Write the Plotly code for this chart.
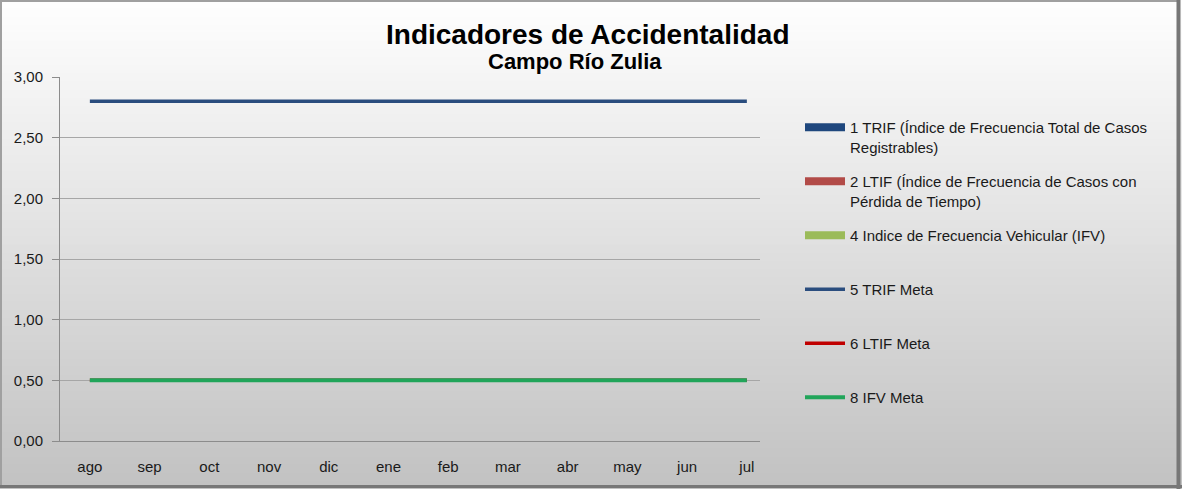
import plotly.graph_objects as go

# datos del gráfico
meses = ["ago", "sep", "oct", "nov", "dic", "ene", "feb", "mar", "abr", "may", "jun", "jul"]
trif = [None] * 12
ltif = [None] * 12
ifv = [None] * 12
trif_meta = [2.8] * 12
ltif_meta = [0.5] * 12
ifv_meta = [0.5] * 12

FONT = "Liberation Sans, Arial, sans-serif"
W, H = 1182, 489
L, R, T, B = 60, 422, 77, 48
PW, PH = W - L - R, H - T - B


def px_x(x):
    # pixel -> coordenada paper
    return (x - L) / PW


def px_y(y):
    return (H - B - y) / PH


fig = go.Figure()

# series de barras (sin datos); la leyenda se muestra como rectángulo grueso
fig.add_trace(go.Scatter(x=meses, y=trif, mode="lines", line=dict(color="#1f477d", width=8),
                         legendgroup="g1",
                         name="1 TRIF (Índice de Frecuencia Total de Casos<br>Registrables)"))
fig.add_trace(go.Scatter(x=meses, y=ltif, mode="lines", line=dict(color="#b24b48", width=8),
                         legendgroup="g2",
                         name="2 LTIF (Índice de Frecuencia de Casos con<br>Pérdida de Tiempo)"))
fig.add_trace(go.Scatter(x=meses, y=ifv, mode="lines", line=dict(color="#9bbb59", width=8),
                         legendgroup="g3",
                         name="4 Indice de Frecuencia Vehicular (IFV)<br> "))

# metas
fig.add_trace(go.Scatter(x=meses, y=trif_meta, mode="lines", line=dict(color="#2a4d7e", width=3.5),
                         legendgroup="g4", name="5 TRIF Meta<br> "))
fig.add_trace(go.Scatter(x=meses, y=ltif_meta, mode="lines", line=dict(color="#c00000", width=3.5),
                         legendgroup="g5", name="6 LTIF Meta<br> "))
fig.add_trace(go.Scatter(x=meses, y=ifv_meta, mode="lines", line=dict(color="#21a55a", width=4),
                         legendgroup="g6", name="8 IFV Meta<br> "))

# fondo degradado (blanco arriba, gris abajo)
n = 60
for i in range(n):
    t = i / (n - 1)
    c = int(round(254 - t * (254 - 194)))
    y1 = i * H / n
    y0 = (i + 1) * H / n + 1
    fig.add_shape(type="rect", xref="paper", yref="paper",
                  x0=px_x(0), x1=px_x(W), y0=px_y(y0), y1=px_y(y1),
                  fillcolor=f"rgb({c},{c},{c})", line=dict(width=0), layer="below")

fig.update_layout(
    width=W, height=H,
    margin=dict(l=L, r=R, t=T, b=B),
    paper_bgcolor="#e0e0e0",
    plot_bgcolor="rgba(0,0,0,0)",
    separators=",.",
    font=dict(family=FONT, size=15, color="#1a1a1a"),
    annotations=[
        dict(text="<b>Indicadores de Accidentalidad</b>", xref="paper", yref="paper",
             x=px_x(588), y=px_y(35), xanchor="center", yanchor="middle", showarrow=False,
             font=dict(family=FONT, size=28, color="#000000")),
        dict(text="<b>Campo Río Zulia</b>", xref="paper", yref="paper",
             x=px_x(575), y=px_y(62), xanchor="center", yanchor="middle", showarrow=False,
             font=dict(family=FONT, size=22, color="#000000")),
    ],
    xaxis=dict(type="category", range=[-0.5, 11.22], showgrid=False, showline=True,
               linecolor="#8c8c8c", linewidth=1, ticks="", tickfont=dict(size=15),
               ticklabelstandoff=12),
    yaxis=dict(range=[0, 3], dtick=0.5, tickformat=".2f", showgrid=True, gridcolor="#a6a6a6",
               showline=True, linecolor="#8c8c8c", ticks="outside", ticklen=7, tickcolor="#8c8c8c",
               zeroline=False, tickfont=dict(size=15), ticklabelstandoff=6),
    legend=dict(x=px_x(800), y=px_y(111), xanchor="left", yanchor="top", valign="top",
                bgcolor="rgba(0,0,0,0)", tracegroupgap=12, itemwidth=40,
                font=dict(family=FONT, size=15, color="#1a1a1a")),
    showlegend=True,
)

# marco del gráfico
fig.add_shape(type="rect", xref="paper", yref="paper",
              x0=px_x(1), x1=px_x(1178), y0=px_y(487), y1=px_y(1),
              line=dict(color="#a0a0a0", width=2), fillcolor="rgba(0,0,0,0)", layer="above")
fig.add_shape(type="line", xref="paper", yref="paper",
              x0=px_x(1178.5), x1=px_x(1178.5), y0=px_y(489), y1=px_y(0),
              line=dict(color="#777777", width=4), layer="above")
fig.add_shape(type="line", xref="paper", yref="paper",
              x0=px_x(0), x1=px_x(1182), y0=px_y(486.5), y1=px_y(486.5),
              line=dict(color="#777777", width=3), layer="above")

fig.write_html("out.html", config={"displayModeBar": False},
               post_script="document.body.style.margin='0';")
